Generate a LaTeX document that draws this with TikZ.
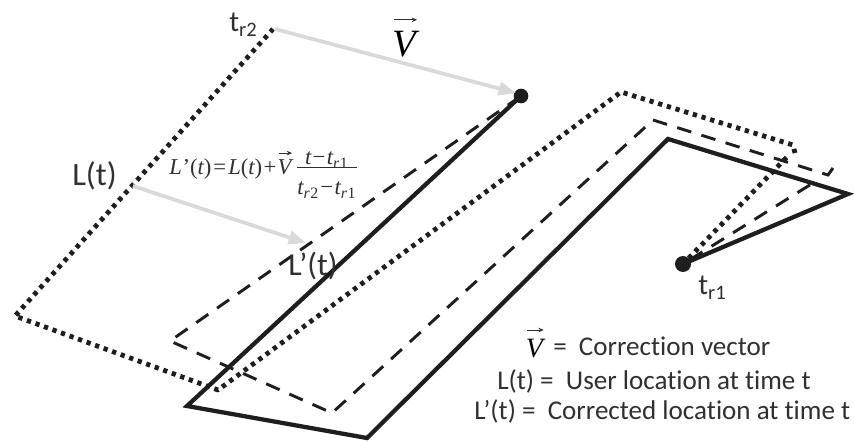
\documentclass[tikz,border=0pt]{standalone}
\usepackage{fontspec}
\usepackage{amsmath}
\setmainfont[Ligatures=NoCommon]{Carlito}
\newfontfamily\serifit[Ligatures=TeX]{Liberation Serif}
\usetikzlibrary{arrows.meta}
\definecolor{ink}{HTML}{1E1E1E}
\definecolor{txt}{HTML}{303030}
\definecolor{pale}{HTML}{D9D9D9}
\newcommand{\vecV}[1]{\tikz[baseline=0pt]{\node[inner sep=0pt,anchor=base] (n) {\serifit\itshape\fontsize{#1}{#1}\selectfont V};\draw[-{Stealth[length=4pt,width=3.4pt]},line width=.6pt,txt] ([xshift=-#1*.27pt,yshift=#1*.3pt]n.north) -- ([xshift=#1*.33pt,yshift=#1*.3pt]n.north);}}
\newcommand{\stackfrac}[2]{\tikz[baseline=-6pt]{\draw[txt,line width=.45pt] (-22.5pt,0) -- (22.5pt,0);\node[inner sep=0pt,anchor=base] (fa) at (0,1.8pt) {#1};\node[inner sep=0pt,anchor=base] (fb) at (0,-21pt) {#2};}}
\tikzset{
 x=.75pt,y=-.75pt,
 solidpath/.style={draw=ink,line width=3.2pt,line join=miter},
 dotpath/.style={draw=ink,line width=3.6pt,dash pattern=on 3.2pt off 3.6pt,line join=round},
 dashpath/.style={draw=ink,line width=2.2pt,dash pattern=on 11pt off 8pt,line join=miter},
 greyarrow/.style={draw=pale,line width=2.8pt,-{Triangle[length=13pt,width=10pt]}},
 lab/.style={inner sep=0pt,text=txt,font=\fontsize{23}{26}\selectfont,anchor=base west},
 leg/.style={inner sep=0pt,text=txt,font=\fontsize{20.3}{24}\selectfont,anchor=base west},
 dotnode/.style={circle,fill=ink,inner sep=0pt,minimum size=12pt}
}
\begin{document}
\begin{tikzpicture}
\useasboundingbox (0,0) rectangle (854,442);
\fill[white] (0,0) rectangle (854,442);
\node[dotnode] (r1) at (683,264) {};
\node[dotnode,minimum size=11pt] (r2) at (521,96) {};
\coordinate (s1) at (848,194);
\coordinate (s2) at (668,139);
\coordinate (s3) at (367,438);
\coordinate (s4) at (187,406);
\coordinate (c1) at (788,156);
\coordinate (d1) at (795,153);
\coordinate (d2) at (793,145);
\coordinate (d3) at (621,92);
\coordinate (d4) at (218,390);
\coordinate (d5) at (15,316);
\coordinate (d6) at (273,29);
\coordinate (c2) at (813,183);
\coordinate (e1) at (833,168);
\coordinate (e2) at (828,175);
\coordinate (e3) at (653,120);
\coordinate (e4) at (332,413);
\coordinate (e5) at (170,341);
\coordinate (a1) at (275,29);
\coordinate (a2) at (516,93);
\coordinate (b1) at (133,186);
\coordinate (b2) at (306,243);
\draw[dotpath] (r1) -- (c1);
\draw[dotpath] (d1) -- (d2) -- (d3) -- (d4) -- (d5) -- (d6);
\draw[dashpath] (r1) -- (c2);
\draw[dashpath] (e1) -- (e2) -- (e3) -- (e4) -- (e5) -- (r2);
\draw[solidpath] (r1.center) -- (s1) -- (s2) -- (s3) -- (s4) -- (r2.center);
\draw[greyarrow] (a1) -- (a2);
\draw[greyarrow] (b1) -- (b2);
\node[lab,font=\fontsize{22}{26}\selectfont] (tr2) at (229,32) {t\textsubscript{r2}};
\node[lab,font=\fontsize{22}{26}\selectfont] (tr1) at (698,295) {t\textsubscript{r1}};
\node[lab,font=\fontsize{24.5}{26}\selectfont] (lt) at (72,186) {L(t)};
\node[lab,font=\fontsize{24}{26}\selectfont] (lp) at (288,276) {L’(t)};
\node[inner sep=0pt,anchor=base] (vbig) at (405,57) {\vecV{29}};
\node[inner sep=0pt,anchor=base west,text=txt] (formula) at (169,175) {\serifit\fontsize{17}{19}\selectfont\itshape L\kern.5pt\upshape'(\itshape t\upshape)\kern1.5pt=\kern1.5pt\itshape L\upshape(\itshape t\upshape)\kern1pt+\kern1pt\vecV{17}\kern3pt\stackfrac{\itshape t\kern1pt\upshape−\kern1pt\itshape t\textsubscript{r}\upshape\textsubscript{1}}{\itshape t\textsubscript{r}\upshape\textsubscript{2}\kern1pt−\kern1pt\itshape t\textsubscript{r}\upshape\textsubscript{1}}};
\node[inner sep=0pt,anchor=base] (vleg) at (535,357) {\vecV{21}};
\node[leg] (l1) at (553,355) {=\ \ Correction vector};
\node[leg] (l2) at (497,389) {L(t) =\ \ User location at time t};
\node[leg] (l3) at (474,419) {L’(t) =\ \ Corrected location at time t};
\end{tikzpicture}
\end{document}
